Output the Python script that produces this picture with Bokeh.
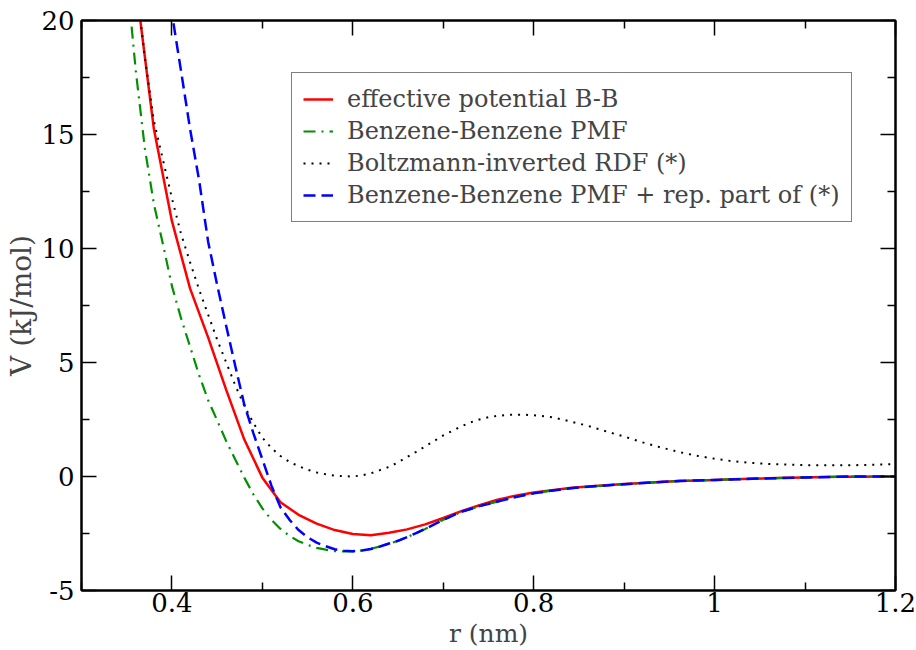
from bokeh.plotting import figure
from bokeh.models import (Range1d, LinearAxis, FixedTicker, CustomJSTickFormatter,
                          Legend, LegendItem)
from bokeh.embed import file_html
from bokeh.resources import INLINE

# effective potential B-B (red, solid)
r_eff = [0.36, 0.38, 0.40, 0.42, 0.44, 0.46, 0.48, 0.50, 0.52, 0.54, 0.56, 0.58,
         0.60, 0.62, 0.64, 0.66, 0.68, 0.70, 0.72, 0.74, 0.76, 0.78, 0.80, 0.82,
         0.84, 0.86, 0.88, 0.90, 0.92, 0.94, 0.96, 0.98, 1.00, 1.02, 1.04, 1.06,
         1.08, 1.10, 1.12, 1.14, 1.16, 1.18, 1.20]
v_eff = [21.6, 15.25, 11.2, 8.25, 6.1, 3.8, 1.62, -0.05, -1.13, -1.68, -2.07, -2.35,
         -2.52, -2.58, -2.47, -2.32, -2.10, -1.82, -1.52, -1.26, -1.02, -0.84, -0.70, -0.60,
         -0.50, -0.44, -0.38, -0.33, -0.28, -0.24, -0.20, -0.17, -0.15, -0.12, -0.10, -0.08,
         -0.06, -0.04, -0.02, -0.01, -0.01, 0.0, 0.0]

# Benzene-Benzene PMF (green, dash-dot)
r_pmf = [0.35, 0.36, 0.37, 0.38, 0.39, 0.40, 0.41, 0.42, 0.43, 0.44, 0.45, 0.46,
         0.47, 0.48, 0.49, 0.50, 0.51, 0.52, 0.53, 0.54, 0.55, 0.56, 0.57, 0.58,
         0.59, 0.60, 0.61, 0.62, 0.63, 0.64, 0.65, 0.66, 0.67, 0.68, 0.69, 0.70,
         0.72, 0.74, 0.76, 0.78, 0.80, 0.82, 0.84, 0.86, 0.88, 0.90, 0.92, 0.94,
         0.96, 0.98, 1.00, 1.05, 1.10, 1.15, 1.20]
v_pmf = [22.0, 17.8, 14.4, 11.96, 10.2, 8.35, 6.95, 5.7, 4.45, 3.35, 2.46, 1.55,
         0.75, -0.05, -0.78, -1.40, -1.90, -2.30, -2.60, -2.84, -3.00, -3.13, -3.21, -3.27,
         -3.29, -3.29, -3.24, -3.17, -3.07, -2.95, -2.82, -2.66, -2.48, -2.30, -2.10, -1.90,
         -1.55, -1.30, -1.10, -0.90, -0.74, -0.62, -0.52, -0.45, -0.39, -0.34, -0.29, -0.24,
         -0.20, -0.17, -0.15, -0.09, -0.04, 0.0, 0.0]

# Boltzmann-inverted RDF (*) (black, dotted)
r_rdf = [0.36, 0.37, 0.38, 0.39, 0.40, 0.41, 0.42, 0.43, 0.44, 0.45, 0.46, 0.47,
         0.48, 0.49, 0.50, 0.51, 0.52, 0.53, 0.54, 0.55, 0.56, 0.57, 0.58, 0.59,
         0.60, 0.61, 0.62, 0.63, 0.64, 0.65, 0.66, 0.67, 0.68, 0.69, 0.70, 0.71,
         0.72, 0.73, 0.74, 0.75, 0.76, 0.77, 0.78, 0.79, 0.80, 0.82, 0.84, 0.86,
         0.88, 0.90, 0.92, 0.94, 0.96, 0.98, 1.00, 1.02, 1.04, 1.06, 1.08, 1.10,
         1.12, 1.14, 1.16, 1.18, 1.20]
v_rdf = [21.8, 18.4, 15.6, 13.9, 12.2, 10.65, 9.4, 8.2, 7.1, 6.0, 5.0, 4.0,
         3.1, 2.35, 1.7, 1.25, 0.9, 0.64, 0.45, 0.30, 0.18, 0.10, 0.04, 0.01,
         0.0, 0.05, 0.14, 0.28, 0.42, 0.62, 0.85, 1.08, 1.32, 1.56, 1.80, 2.0,
         2.2, 2.37, 2.5, 2.6, 2.66, 2.70, 2.71, 2.71, 2.69, 2.60, 2.42, 2.22,
         1.98, 1.75, 1.50, 1.28, 1.08, 0.91, 0.78, 0.67, 0.60, 0.55, 0.52, 0.50,
         0.49, 0.49, 0.50, 0.52, 0.54]

# Benzene-Benzene PMF + rep. part of (*) (blue, dashed)
r_rep = [0.39, 0.40, 0.41, 0.42, 0.43, 0.44, 0.45, 0.46, 0.47, 0.48, 0.49, 0.50,
         0.51, 0.52, 0.53, 0.54, 0.55, 0.56, 0.57, 0.58, 0.59, 0.60, 0.61, 0.62,
         0.63, 0.64, 0.65, 0.66, 0.67, 0.68, 0.69, 0.70, 0.72, 0.74, 0.76, 0.78,
         0.80, 0.82, 0.84, 0.86, 0.88, 0.90, 0.92, 0.94, 0.96, 0.98, 1.00, 1.05,
         1.10, 1.15, 1.20]
v_rep = [23.0, 20.3, 17.8, 15.25, 13.0, 10.3, 8.4, 6.6, 4.85, 3.15, 1.9, 0.75,
         -0.40, -1.35, -1.90, -2.35, -2.67, -2.90, -3.06, -3.19, -3.26, -3.28, -3.25, -3.18,
         -3.07, -2.94, -2.82, -2.66, -2.48, -2.30, -2.10, -1.90, -1.55, -1.30, -1.10, -0.90,
         -0.74, -0.62, -0.52, -0.45, -0.39, -0.34, -0.29, -0.24, -0.20, -0.17, -0.15, -0.09,
         -0.04, 0.0, 0.0]

x_ticks = [0.4, 0.6, 0.8, 1.0, 1.2]
x_minor = [0.3, 0.5, 0.7, 0.9, 1.1]
y_ticks = [-5, 0, 5, 10, 15, 20]
y_minor = [-2.5, 2.5, 7.5, 12.5, 17.5]

labels = ["effective potential B-B", "Benzene-Benzene PMF",
          "Boltzmann-inverted RDF (*)", "Benzene-Benzene PMF + rep. part of (*)"]

FONT = "DejaVu Serif"

p = figure(width=916, height=650, output_backend="svg", toolbar_location=None,
           x_range=Range1d(0.3, 1.2), y_range=Range1d(-5, 20),
           min_border_left=81, min_border_right=21, min_border_top=20, min_border_bottom=60,
           x_axis_location=None, y_axis_location=None)
p.xgrid.visible = False
p.ygrid.visible = False
p.outline_line_color = "black"
p.outline_line_width = 2
p.background_fill_color = "white"
p.border_fill_color = "white"

xfmt = CustomJSTickFormatter(code="return tick.toFixed(1).replace(/\\.0$/, '');")
yfmt = CustomJSTickFormatter(code="return tick.toFixed(0);")


def style_axis(ax, show_labels):
    ax.major_tick_in = 15
    ax.major_tick_out = 0
    ax.minor_tick_in = 8
    ax.minor_tick_out = 0
    ax.axis_line_color = "black"
    ax.axis_line_width = 2
    ax.major_tick_line_width = 1.5
    ax.minor_tick_line_width = 1.5
    ax.major_tick_line_color = "black"
    ax.minor_tick_line_color = "black"
    if show_labels:
        ax.major_label_text_font = FONT
        ax.major_label_text_font_size = "26px"
        ax.major_label_text_color = "black"
    else:
        ax.major_label_text_font_size = "0px"
        ax.major_label_standoff = 0


xb = LinearAxis(ticker=FixedTicker(ticks=x_ticks, minor_ticks=x_minor), formatter=xfmt,
                axis_label="r (nm)")
style_axis(xb, True)
xb.major_label_standoff = 2
xb.axis_label_standoff = 4
xb.axis_label_text_font = FONT
xb.axis_label_text_font_size = "25px"
xb.axis_label_text_font_style = "normal"
p.add_layout(xb, "below")

yl = LinearAxis(ticker=FixedTicker(ticks=y_ticks, minor_ticks=y_minor), formatter=yfmt,
                axis_label="V (kJ/mol)")
style_axis(yl, True)
yl.major_label_standoff = 7
yl.axis_label_standoff = 0
yl.axis_label_text_font = FONT
yl.axis_label_text_font_size = "28px"
yl.axis_label_text_font_style = "normal"
p.add_layout(yl, "left")

xt = LinearAxis(ticker=FixedTicker(ticks=x_ticks, minor_ticks=x_minor), formatter=xfmt)
style_axis(xt, False)
p.add_layout(xt, "above")

yr = LinearAxis(ticker=FixedTicker(ticks=y_ticks, minor_ticks=y_minor), formatter=yfmt)
style_axis(yr, False)
p.add_layout(yr, "right")

r1 = p.line(r_eff, v_eff, line_color="#ff0000", line_width=2.5)
r2 = p.line(r_pmf, v_pmf, line_color="#009000", line_width=2.2, line_dash="12 6 2 6")
r3 = p.line(r_rdf, v_rdf, line_color="black", line_width=2, line_dash="2 6")
r4 = p.line(r_rep, v_rep, line_color="#0000ff", line_width=2.5, line_dash="12 6")

legend = Legend(items=[LegendItem(label=labels[0], renderers=[r1]),
                       LegendItem(label=labels[1], renderers=[r2]),
                       LegendItem(label=labels[2], renderers=[r3]),
                       LegendItem(label=labels[3], renderers=[r4])],
                location=(210, 368), margin=0, padding=11, spacing=2,
                glyph_width=30, glyph_height=30, label_height=30, label_standoff=14,
                label_text_font=FONT, label_text_font_size="24px",
                border_line_color="black", border_line_width=1.5,
                background_fill_color="white", background_fill_alpha=1.0)
p.add_layout(legend, "center")

open("out.html", "w").write(file_html(p, INLINE))
